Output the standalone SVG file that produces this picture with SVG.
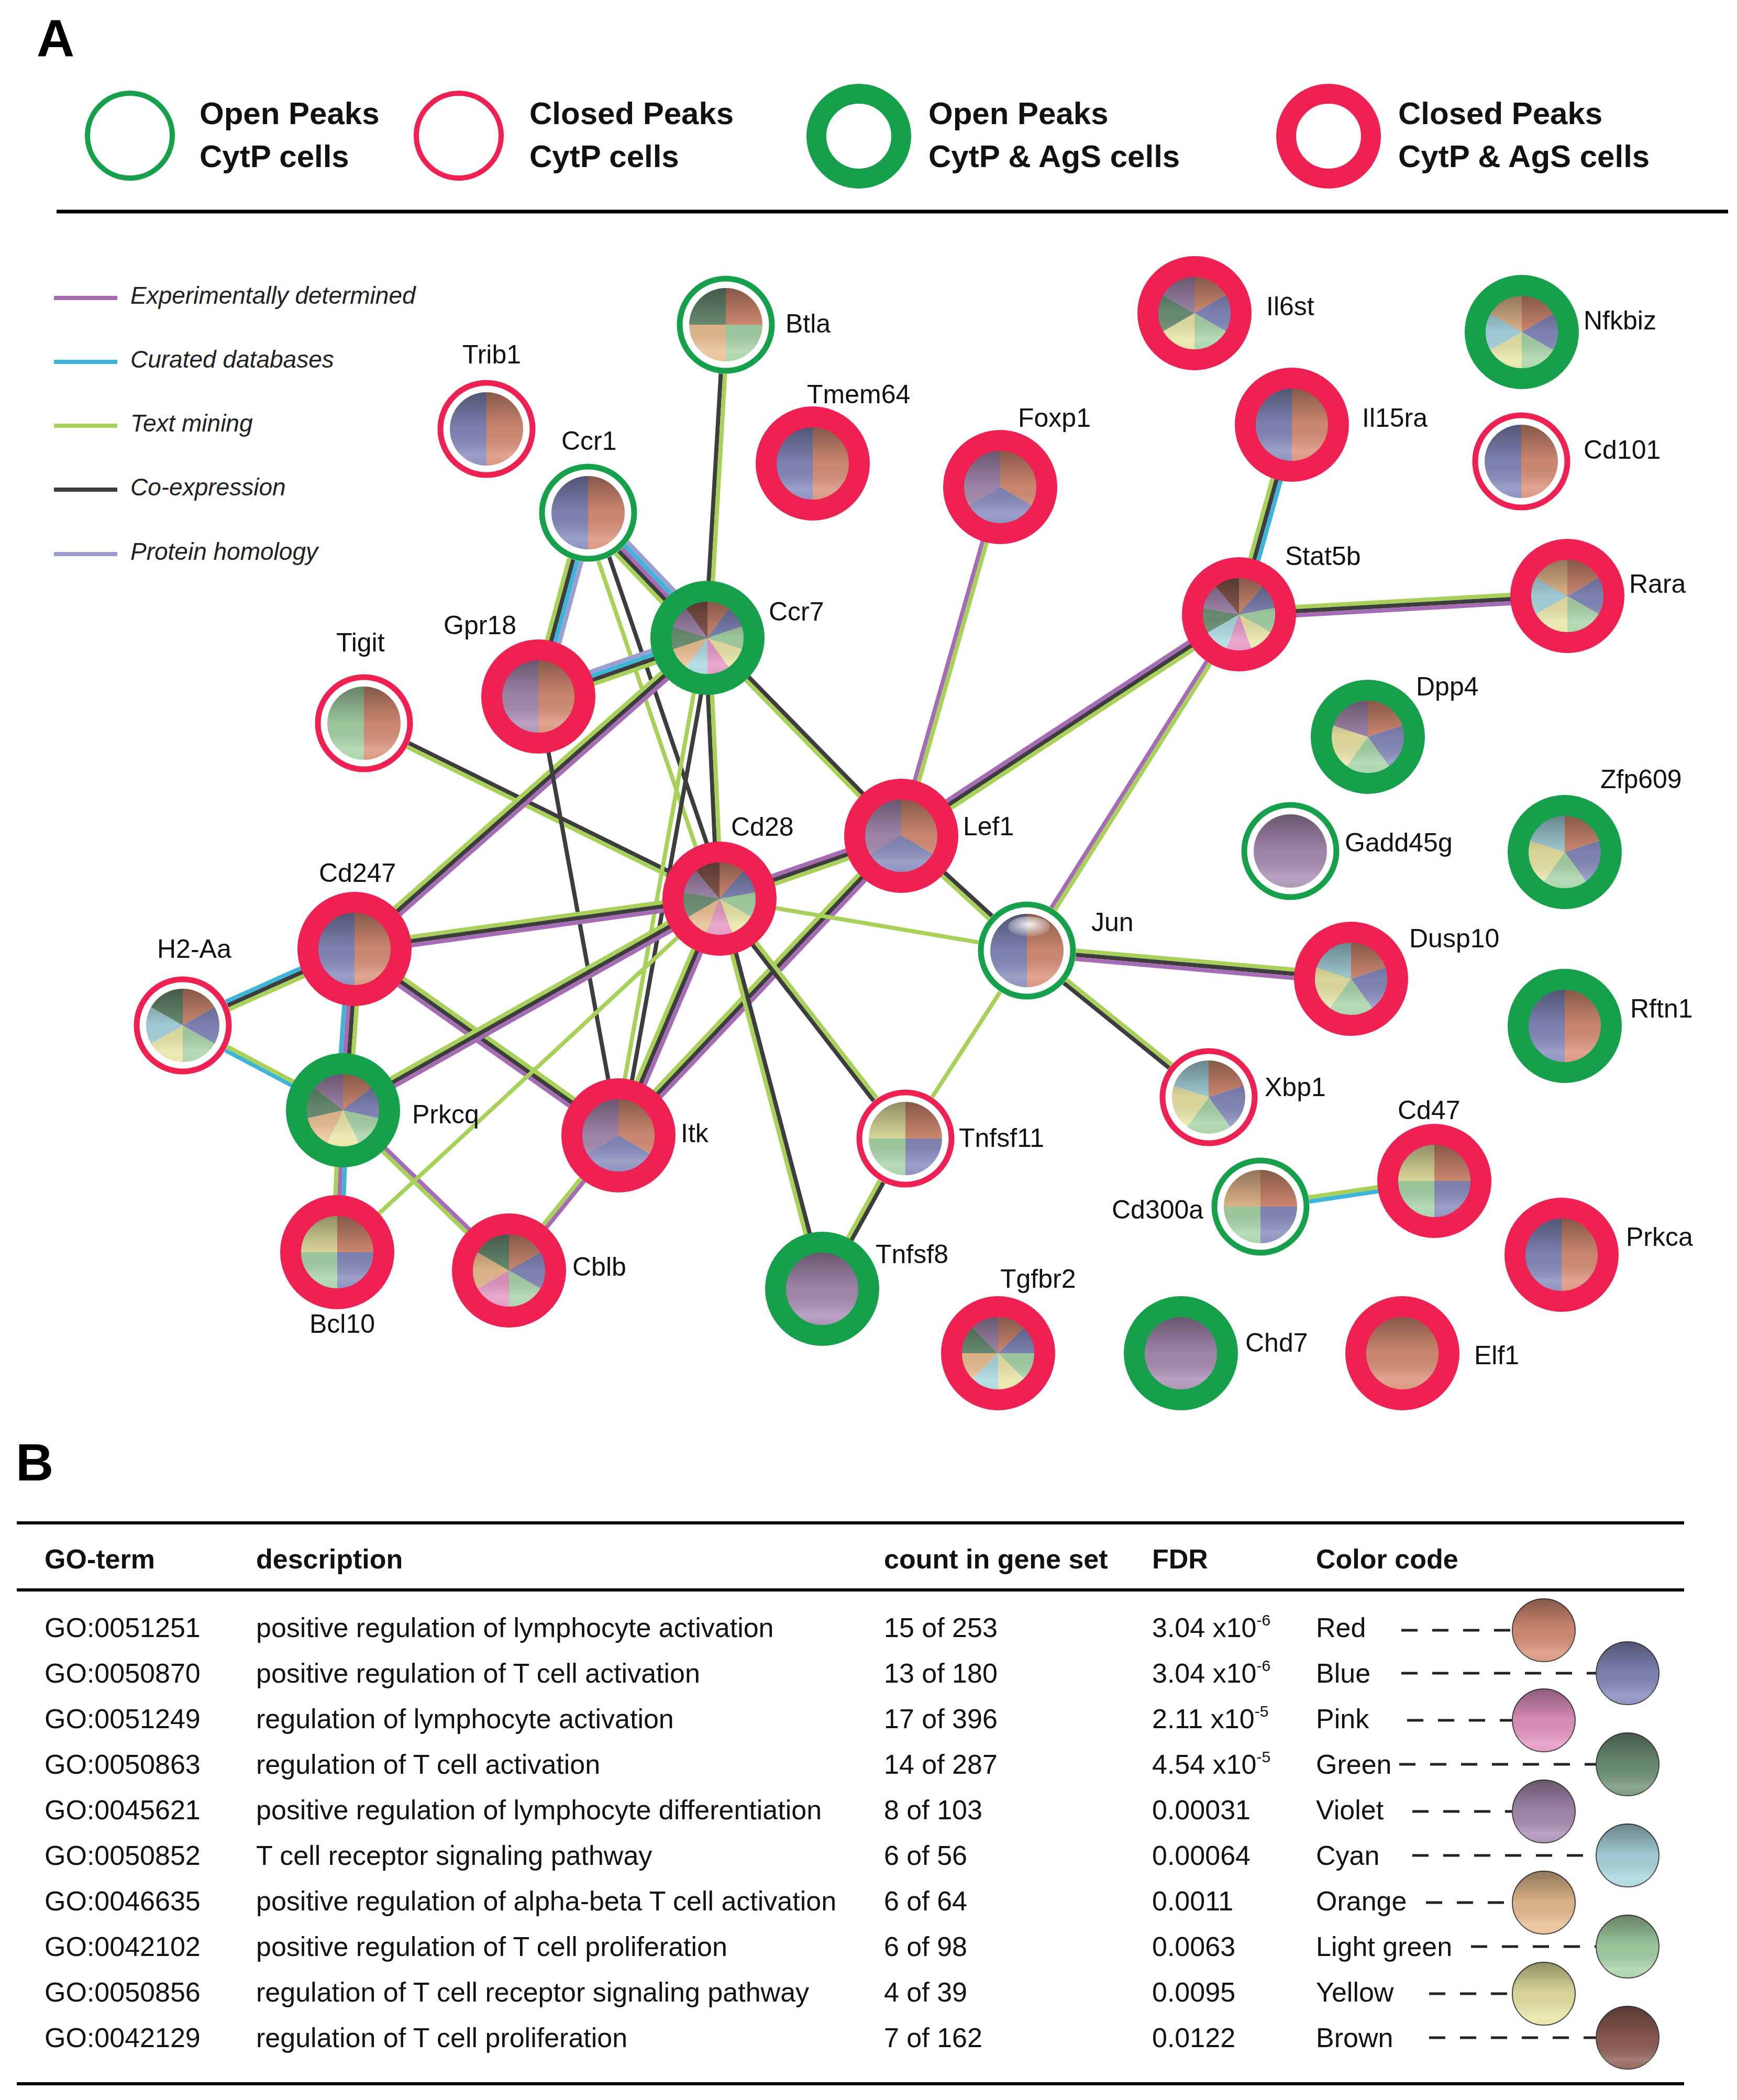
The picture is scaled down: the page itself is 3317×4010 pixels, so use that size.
<svg xmlns="http://www.w3.org/2000/svg" xmlns:xlink="http://www.w3.org/1999/xlink" width="3317" height="4010" viewBox="0 0 3317 4010">
<style>
.lbl{font-family:"Liberation Sans",Arial,sans-serif;font-size:50px;fill:#111}
.leg{font-family:"Liberation Sans",Arial,sans-serif;font-size:60px;font-weight:bold;fill:#111}
.legi{font-family:"Liberation Sans",Arial,sans-serif;font-size:46px;font-style:italic;fill:#222}
.big{font-family:"Liberation Sans",Arial,sans-serif;font-size:100px;font-weight:bold;fill:#000}
.tb{font-family:"Liberation Sans",Arial,sans-serif;font-size:52px;fill:#111}
.th{font-weight:bold}
.sup{font-size:30px}
.ex{stroke:#a66bb5}.cd{stroke:#3db5d9}.tm{stroke:#a8d15a}.co{stroke:#3d3d3d}.ph{stroke:#9a9fd2}
#edges path,.legline{stroke-width:8;fill:none}
.tg{fill:none;stroke:#17a04c;stroke-width:11}
.tr{fill:none;stroke:#ee2152;stroke-width:11}
.TG{fill:none;stroke:#17a04c;stroke-width:40}
.TR{fill:none;stroke:#ee2152;stroke-width:40}
.bg{fill:#fff}
.sh{fill:url(#shade)}
.R{fill:#d88f76}.B{fill:#8489bb}.P{fill:#e494c2}.G{fill:#6e9276}.V{fill:#a88cb2}.C{fill:#a9d6e0}.O{fill:#e9bd90}.L{fill:#a5d2a5}.Y{fill:#e8e4a4}.N{fill:#8e5c52}
.rule{stroke:#000;stroke-width:6}
.dash{stroke:#222;stroke-width:5;stroke-dasharray:31 28}
.ball{stroke:#444;stroke-width:2}
</style>
<defs>
<linearGradient id="shade" x1="0" y1="0" x2="0" y2="1">
<stop offset="0" stop-color="#000" stop-opacity="0.38"/>
<stop offset="0.5" stop-color="#000" stop-opacity="0.06"/>
<stop offset="0.85" stop-color="#fff" stop-opacity="0.2"/>
<stop offset="1" stop-color="#fff" stop-opacity="0.08"/>
</linearGradient>
<radialGradient id="gloss" cx="0.5" cy="0.4" r="0.6">
<stop offset="0" stop-color="#fff" stop-opacity="0.9"/>
<stop offset="1" stop-color="#fff" stop-opacity="0.1"/>
</radialGradient>
<g id="pRB"><path class="R" d="M0 0V-70A70 70 0 0 1 0 70Z"/><path class="B" d="M0 0V70A70 70 0 0 1 0 -70Z"/><circle class="sh" r="70"/></g>
<g id="pRV"><path class="R" d="M0 0V-70A70 70 0 0 1 0 70Z"/><path class="V" d="M0 0V70A70 70 0 0 1 0 -70Z"/><circle class="sh" r="70"/></g>
<g id="pRG"><path class="R" d="M0 0V-70A70 70 0 0 1 0 70Z"/><path class="L" d="M0 0V70A70 70 0 0 1 0 -70Z"/><circle class="sh" r="70"/></g>
<g id="p3"><path class="R" d="M0 0L0 -70A70 70 0 0 1 60.62 35Z"/><path class="B" d="M0 0L60.62 35A70 70 0 0 1 -60.62 35Z"/><path class="V" d="M0 0L-60.62 35A70 70 0 0 1 0 -70Z"/><circle class="sh" r="70"/></g>
<g id="p4btla"><path class="R" d="M0 0L0 -70A70 70 0 0 1 70 0Z"/><path class="L" d="M0 0L70 0A70 70 0 0 1 0 70Z"/><path class="O" d="M0 0L0 70A70 70 0 0 1 -70 0Z"/><path class="G" d="M0 0L-70 0A70 70 0 0 1 0 -70Z"/><circle class="sh" r="70"/></g>
<g id="p4y"><path class="R" d="M0 0L0 -70A70 70 0 0 1 70 0Z"/><path class="B" d="M0 0L70 0A70 70 0 0 1 0 70Z"/><path class="L" d="M0 0L0 70A70 70 0 0 1 -70 0Z"/><path class="Y" d="M0 0L-70 0A70 70 0 0 1 0 -70Z"/><circle class="sh" r="70"/></g>
<g id="p4o"><path class="R" d="M0 0L0 -70A70 70 0 0 1 70 0Z"/><path class="B" d="M0 0L70 0A70 70 0 0 1 0 70Z"/><path class="L" d="M0 0L0 70A70 70 0 0 1 -70 0Z"/><path class="O" d="M0 0L-70 0A70 70 0 0 1 0 -70Z"/><circle class="sh" r="70"/></g>
<g id="p5v"><path class="R" d="M0 0L0 -70A70 70 0 0 1 66.57 -21.63Z"/><path class="B" d="M0 0L66.57 -21.63A70 70 0 0 1 41.15 56.63Z"/><path class="L" d="M0 0L41.15 56.63A70 70 0 0 1 -41.15 56.63Z"/><path class="Y" d="M0 0L-41.15 56.63A70 70 0 0 1 -66.57 -21.63Z"/><path class="V" d="M0 0L-66.57 -21.63A70 70 0 0 1 0 -70Z"/><circle class="sh" r="70"/></g>
<g id="p5c"><path class="R" d="M0 0L0 -70A70 70 0 0 1 66.57 -21.63Z"/><path class="B" d="M0 0L66.57 -21.63A70 70 0 0 1 41.15 56.63Z"/><path class="L" d="M0 0L41.15 56.63A70 70 0 0 1 -41.15 56.63Z"/><path class="Y" d="M0 0L-41.15 56.63A70 70 0 0 1 -66.57 -21.63Z"/><path class="C" d="M0 0L-66.57 -21.63A70 70 0 0 1 0 -70Z"/><circle class="sh" r="70"/></g>
<g id="p6a"><path class="R" d="M0 0L0 -70A70 70 0 0 1 60.62 -35Z"/><path class="B" d="M0 0L60.62 -35A70 70 0 0 1 60.62 35Z"/><path class="L" d="M0 0L60.62 35A70 70 0 0 1 0 70Z"/><path class="Y" d="M0 0L0 70A70 70 0 0 1 -60.62 35Z"/><path class="G" d="M0 0L-60.62 35A70 70 0 0 1 -60.62 -35Z"/><path class="V" d="M0 0L-60.62 -35A70 70 0 0 1 0 -70Z"/><circle class="sh" r="70"/></g>
<g id="p6b"><path class="R" d="M0 0L0 -70A70 70 0 0 1 60.62 -35Z"/><path class="B" d="M0 0L60.62 -35A70 70 0 0 1 60.62 35Z"/><path class="L" d="M0 0L60.62 35A70 70 0 0 1 0 70Z"/><path class="Y" d="M0 0L0 70A70 70 0 0 1 -60.62 35Z"/><path class="C" d="M0 0L-60.62 35A70 70 0 0 1 -60.62 -35Z"/><path class="O" d="M0 0L-60.62 -35A70 70 0 0 1 0 -70Z"/><circle class="sh" r="70"/></g>
<g id="p6c"><path class="R" d="M0 0L0 -70A70 70 0 0 1 60.62 -35Z"/><path class="B" d="M0 0L60.62 -35A70 70 0 0 1 60.62 35Z"/><path class="L" d="M0 0L60.62 35A70 70 0 0 1 0 70Z"/><path class="Y" d="M0 0L0 70A70 70 0 0 1 -60.62 35Z"/><path class="C" d="M0 0L-60.62 35A70 70 0 0 1 -60.62 -35Z"/><path class="G" d="M0 0L-60.62 -35A70 70 0 0 1 0 -70Z"/><circle class="sh" r="70"/></g>
<g id="p6d"><path class="R" d="M0 0L0 -70A70 70 0 0 1 60.62 -35Z"/><path class="B" d="M0 0L60.62 -35A70 70 0 0 1 60.62 35Z"/><path class="L" d="M0 0L60.62 35A70 70 0 0 1 0 70Z"/><path class="P" d="M0 0L0 70A70 70 0 0 1 -60.62 35Z"/><path class="O" d="M0 0L-60.62 35A70 70 0 0 1 -60.62 -35Z"/><path class="G" d="M0 0L-60.62 -35A70 70 0 0 1 0 -70Z"/><circle class="sh" r="70"/></g>
<g id="p7"><path class="R" d="M0 0L0 -70A70 70 0 0 1 54.73 -43.65Z"/><path class="B" d="M0 0L54.73 -43.65A70 70 0 0 1 68.24 15.58Z"/><path class="L" d="M0 0L68.24 15.58A70 70 0 0 1 30.37 63.07Z"/><path class="Y" d="M0 0L30.37 63.07A70 70 0 0 1 -30.37 63.07Z"/><path class="O" d="M0 0L-30.37 63.07A70 70 0 0 1 -68.24 15.58Z"/><path class="G" d="M0 0L-68.24 15.58A70 70 0 0 1 -54.73 -43.65Z"/><path class="V" d="M0 0L-54.73 -43.65A70 70 0 0 1 0 -70Z"/><circle class="sh" r="70"/></g>
<g id="p8"><path class="R" d="M0 0L0 -70A70 70 0 0 1 49.5 -49.5Z"/><path class="B" d="M0 0L49.5 -49.5A70 70 0 0 1 70 0Z"/><path class="L" d="M0 0L70 0A70 70 0 0 1 49.5 49.5Z"/><path class="Y" d="M0 0L49.5 49.5A70 70 0 0 1 0 70Z"/><path class="C" d="M0 0L0 70A70 70 0 0 1 -49.5 49.5Z"/><path class="O" d="M0 0L-49.5 49.5A70 70 0 0 1 -70 0Z"/><path class="G" d="M0 0L-70 0A70 70 0 0 1 -49.5 -49.5Z"/><path class="V" d="M0 0L-49.5 -49.5A70 70 0 0 1 0 -70Z"/><circle class="sh" r="70"/></g>
<g id="p9a"><path class="R" d="M0 0L0 -70A70 70 0 0 1 45 -53.62Z"/><path class="B" d="M0 0L45 -53.62A70 70 0 0 1 68.94 -12.16Z"/><path class="L" d="M0 0L68.94 -12.16A70 70 0 0 1 60.62 35Z"/><path class="Y" d="M0 0L60.62 35A70 70 0 0 1 23.94 65.78Z"/><path class="P" d="M0 0L23.94 65.78A70 70 0 0 1 -23.94 65.78Z"/><path class="C" d="M0 0L-23.94 65.78A70 70 0 0 1 -60.62 35Z"/><path class="G" d="M0 0L-60.62 35A70 70 0 0 1 -68.94 -12.16Z"/><path class="V" d="M0 0L-68.94 -12.16A70 70 0 0 1 -45 -53.62Z"/><path class="N" d="M0 0L-45 -53.62A70 70 0 0 1 0 -70Z"/><circle class="sh" r="70"/></g>
<g id="p9b"><path class="R" d="M0 0L0 -70A70 70 0 0 1 45 -53.62Z"/><path class="B" d="M0 0L45 -53.62A70 70 0 0 1 68.94 -12.16Z"/><path class="L" d="M0 0L68.94 -12.16A70 70 0 0 1 60.62 35Z"/><path class="Y" d="M0 0L60.62 35A70 70 0 0 1 23.94 65.78Z"/><path class="P" d="M0 0L23.94 65.78A70 70 0 0 1 -23.94 65.78Z"/><path class="O" d="M0 0L-23.94 65.78A70 70 0 0 1 -60.62 35Z"/><path class="G" d="M0 0L-60.62 35A70 70 0 0 1 -68.94 -12.16Z"/><path class="V" d="M0 0L-68.94 -12.16A70 70 0 0 1 -45 -53.62Z"/><path class="N" d="M0 0L-45 -53.62A70 70 0 0 1 0 -70Z"/><circle class="sh" r="70"/></g>
<g id="p10"><path class="R" d="M0 0L0 -70A70 70 0 0 1 41.15 -56.63Z"/><path class="B" d="M0 0L41.15 -56.63A70 70 0 0 1 66.57 -21.63Z"/><path class="L" d="M0 0L66.57 -21.63A70 70 0 0 1 66.57 21.63Z"/><path class="Y" d="M0 0L66.57 21.63A70 70 0 0 1 41.15 56.63Z"/><path class="P" d="M0 0L41.15 56.63A70 70 0 0 1 0 70Z"/><path class="C" d="M0 0L0 70A70 70 0 0 1 -41.15 56.63Z"/><path class="O" d="M0 0L-41.15 56.63A70 70 0 0 1 -66.57 21.63Z"/><path class="G" d="M0 0L-66.57 21.63A70 70 0 0 1 -66.57 -21.63Z"/><path class="V" d="M0 0L-66.57 -21.63A70 70 0 0 1 -41.15 -56.63Z"/><path class="N" d="M0 0L-41.15 -56.63A70 70 0 0 1 0 -70Z"/><circle class="sh" r="70"/></g>
<g id="pV"><circle class="V" r="70"/><circle class="sh" r="70"/></g>
<g id="pR"><circle class="R" r="70"/><circle class="sh" r="70"/></g>
</defs>
<rect width="3317" height="4010" fill="#fff"/>

<!-- Panel A header legend -->
<text class="big" x="70" y="108">A</text>
<g id="legend-peaks">
<circle cx="248" cy="259" r="81" fill="none" stroke="#17a04c" stroke-width="10"/>
<text class="leg" x="381" y="237">Open Peaks</text><text class="leg" x="381" y="319">CytP cells</text>
<circle cx="876" cy="259" r="81" fill="none" stroke="#ee2152" stroke-width="10"/>
<text class="leg" x="1011" y="237">Closed Peaks</text><text class="leg" x="1011" y="319">CytP cells</text>
<circle cx="1640" cy="260" r="81" fill="none" stroke="#17a04c" stroke-width="38"/>
<text class="leg" x="1773" y="237">Open Peaks</text><text class="leg" x="1773" y="319">CytP &amp; AgS cells</text>
<circle cx="2537" cy="260" r="81" fill="none" stroke="#ee2152" stroke-width="38"/>
<text class="leg" x="2670" y="237">Closed Peaks</text><text class="leg" x="2670" y="319">CytP &amp; AgS cells</text>
</g>
<line x1="108" y1="404" x2="3300" y2="404" stroke="#000" stroke-width="7"/>

<g id="legend-edges">
<line class="legline ex" x1="103" y1="569" x2="224" y2="569"/><text class="legi" x="249" y="580">Experimentally determined</text>
<line class="legline cd" x1="103" y1="691" x2="224" y2="691"/><text class="legi" x="249" y="702">Curated databases</text>
<line class="legline tm" x1="103" y1="813" x2="224" y2="813"/><text class="legi" x="249" y="824">Text mining</text>
<line class="legline co" x1="103" y1="935" x2="224" y2="935"/><text class="legi" x="249" y="946">Co-expression</text>
<line class="legline ph" x1="103" y1="1058" x2="224" y2="1058"/><text class="legi" x="249" y="1069">Protein homology</text>
</g>

<g id="edges">
<g transform="translate(1386 620) rotate(93.35)"><path class="co" d="M0 4H599"/><path class="tm" d="M0 -4H599"/></g>
<g transform="translate(1123 979) rotate(46.35)"><path class="tm" d="M0 16H330"/><path class="co" d="M0 8H330"/><path class="ex" d="M0 0H330"/><path class="cd" d="M0 -8H330"/><path class="ph" d="M0 -16H330"/></g>
<g transform="translate(1123 979) rotate(105.14)"><path class="tm" d="M0 12H364"/><path class="co" d="M0 4H364"/><path class="cd" d="M0 -4H364"/><path class="ph" d="M0 -12H364"/></g>
<g transform="translate(1123 979) rotate(71.19)"><path class="tm" d="M0 11H779"/><path class="co" d="M0 -11H779"/></g>
<g transform="translate(1028 1330) rotate(-19.12)"><path class="tm" d="M0 12H342"/><path class="co" d="M0 4H342"/><path class="cd" d="M0 -4H342"/><path class="ph" d="M0 -12H342"/></g>
<g transform="translate(695 1381) rotate(26.26)"><path class="co" d="M0 -4H757"/><path class="tm" d="M0 4H757"/></g>
<g transform="translate(1351 1218) rotate(138.61)"><path class="tm" d="M0 8H898"/><path class="co" d="M0 0H898"/><path class="ex" d="M0 -8H898"/></g>
<g transform="translate(1351 1218) rotate(87.36)"><path class="co" d="M0 4H499"/><path class="tm" d="M0 -4H499"/></g>
<g transform="translate(1351 1218) rotate(100.15)"><path class="tm" d="M0 7H965"/><path class="co" d="M0 -7H965"/></g>
<g transform="translate(1351 1218) rotate(45.61)"><path class="tm" d="M0 4H529"/><path class="co" d="M0 -4H529"/></g>
<g transform="translate(1028 1330) rotate(79.65)"><path class="co" d="M0 0H852"/></g>
<g transform="translate(677 1812) rotate(-7.84)"><path class="tm" d="M0 -8H704"/><path class="co" d="M0 0H704"/><path class="ex" d="M0 8H704"/></g>
<g transform="translate(677 1812) rotate(156)"><path class="cd" d="M0 8H359"/><path class="co" d="M0 0H359"/><path class="tm" d="M0 -8H359"/></g>
<g transform="translate(677 1812) rotate(94.09)"><path class="cd" d="M0 12H309"/><path class="ex" d="M0 4H309"/><path class="co" d="M0 -4H309"/><path class="tm" d="M0 -12H309"/></g>
<g transform="translate(677 1812) rotate(35.24)"><path class="ex" d="M0 8H617"/><path class="co" d="M0 0H617"/><path class="tm" d="M0 -8H617"/></g>
<g transform="translate(349 1958) rotate(27.9)"><path class="cd" d="M0 4H346"/><path class="tm" d="M0 -4H346"/></g>
<g transform="translate(655 2120) rotate(-29.33)"><path class="tm" d="M0 -8H825"/><path class="co" d="M0 0H825"/><path class="ex" d="M0 8H825"/></g>
<g transform="translate(655 2120) rotate(92.32)"><path class="tm" d="M0 8H271"/><path class="ex" d="M0 0H271"/><path class="cd" d="M0 -8H271"/></g>
<g transform="translate(655 2120) rotate(43.99)"><path class="tm" d="M0 4H441"/><path class="ex" d="M0 -4H441"/></g>
<g transform="translate(644 2391) rotate(-42.76)"><path class="tm" d="M0 0H994"/></g>
<g transform="translate(1181 2168) rotate(-66.88)"><path class="tm" d="M0 -8H492"/><path class="co" d="M0 0H492"/><path class="ex" d="M0 8H492"/></g>
<g transform="translate(1181 2168) rotate(-46.65)"><path class="tm" d="M0 -8H787"/><path class="co" d="M0 0H787"/><path class="ex" d="M0 8H787"/></g>
<g transform="translate(1181 2168) rotate(129)"><path class="tm" d="M0 4H332"/><path class="ex" d="M0 -4H332"/></g>
<g transform="translate(1374 1716) rotate(-19.08)"><path class="ex" d="M0 -8H367"/><path class="co" d="M0 0H367"/><path class="tm" d="M0 8H367"/></g>
<g transform="translate(1374 1716) rotate(9.57)"><path class="tm" d="M0 0H595"/></g>
<g transform="translate(1374 1716) rotate(52.22)"><path class="co" d="M0 4H580"/><path class="tm" d="M0 -4H580"/></g>
<g transform="translate(1374 1716) rotate(75.26)"><path class="tm" d="M0 4H770"/><path class="co" d="M0 -4H770"/></g>
<g transform="translate(1721 1596) rotate(42.38)"><path class="tm" d="M0 4H325"/><path class="co" d="M0 -4H325"/></g>
<g transform="translate(1721 1596) rotate(-33.26)"><path class="ex" d="M0 -8H771"/><path class="co" d="M0 0H771"/><path class="tm" d="M0 8H771"/></g>
<g transform="translate(1721 1596) rotate(-74.16)"><path class="ex" d="M0 -4H692"/><path class="tm" d="M0 4H692"/></g>
<g transform="translate(1961 1815) rotate(-57.76)"><path class="ex" d="M0 -4H759"/><path class="tm" d="M0 4H759"/></g>
<g transform="translate(1961 1815) rotate(4.99)"><path class="tm" d="M0 -8H621"/><path class="co" d="M0 0H621"/><path class="ex" d="M0 8H621"/></g>
<g transform="translate(1961 1815) rotate(38.9)"><path class="co" d="M0 4H446"/><path class="tm" d="M0 -4H446"/></g>
<g transform="translate(1961 1815) rotate(122.87)"><path class="tm" d="M0 0H427"/></g>
<g transform="translate(1729 2174) rotate(118.99)"><path class="tm" d="M0 4H328"/><path class="co" d="M0 -4H328"/></g>
<g transform="translate(2366 1173) rotate(-74.41)"><path class="tm" d="M0 -8H376"/><path class="co" d="M0 0H376"/><path class="cd" d="M0 8H376"/></g>
<g transform="translate(2366 1173) rotate(-3.2)"><path class="tm" d="M0 -8H628"/><path class="co" d="M0 0H628"/><path class="ex" d="M0 8H628"/></g>
<g transform="translate(2407 2304) rotate(-8.4)"><path class="tm" d="M0 -4H336"/><path class="cd" d="M0 4H336"/></g>
</g>

<g id="nodes">
<g id="n-Btla"><g transform="translate(1386 620)"><circle class="bg" r="94"/><use href="#p4btla"/><circle class="tg" r="88"/></g><text class="lbl" x="1500" y="635">Btla</text></g>
<g id="n-Trib1"><g transform="translate(929 819)"><circle class="bg" r="94"/><use href="#pRB"/><circle class="tr" r="88"/></g><text class="lbl" x="883" y="694">Trib1</text></g>
<g id="n-Tmem64"><g transform="translate(1552 885)"><use href="#pRB"/><circle class="TR" r="89"/></g><text class="lbl" x="1541" y="770">Tmem64</text></g>
<g id="n-Foxp1"><g transform="translate(1910 930)"><use href="#p3"/><circle class="TR" r="89"/></g><text class="lbl" x="1944" y="815">Foxp1</text></g>
<g id="n-Il6st"><g transform="translate(2281 598)"><use href="#p6a"/><circle class="TR" r="89"/></g><text class="lbl" x="2418" y="602">Il6st</text></g>
<g id="n-Il15ra"><g transform="translate(2467 811)"><use href="#pRB"/><circle class="TR" r="89"/></g><text class="lbl" x="2601" y="815">Il15ra</text></g>
<g id="n-Nfkbiz"><g transform="translate(2906 634)"><use href="#p6b"/><circle class="TG" r="89"/></g><text class="lbl" x="3024" y="629">Nfkbiz</text></g>
<g id="n-Cd101"><g transform="translate(2905 881)"><circle class="bg" r="94"/><use href="#pRB"/><circle class="tr" r="88"/></g><text class="lbl" x="3024" y="876">Cd101</text></g>
<g id="n-Ccr1"><g transform="translate(1123 979)"><circle class="bg" r="94"/><use href="#pRB"/><circle class="tg" r="88"/></g><text class="lbl" x="1072" y="859">Ccr1</text></g>
<g id="n-Ccr7"><g transform="translate(1351 1218)"><use href="#p10"/><circle class="TG" r="89"/></g><text class="lbl" x="1468" y="1185">Ccr7</text></g>
<g id="n-Gpr18"><g transform="translate(1028 1330)"><use href="#pRV"/><circle class="TR" r="89"/></g><text class="lbl" x="847" y="1211">Gpr18</text></g>
<g id="n-Tigit"><g transform="translate(695 1381)"><circle class="bg" r="94"/><use href="#pRG"/><circle class="tr" r="88"/></g><text class="lbl" x="642" y="1244">Tigit</text></g>
<g id="n-Stat5b"><g transform="translate(2366 1173)"><use href="#p9a"/><circle class="TR" r="89"/></g><text class="lbl" x="2454" y="1079">Stat5b</text></g>
<g id="n-Rara"><g transform="translate(2993 1138)"><use href="#p6b"/><circle class="TR" r="89"/></g><text class="lbl" x="3111" y="1132">Rara</text></g>
<g id="n-Dpp4"><g transform="translate(2612 1407)"><use href="#p5v"/><circle class="TG" r="89"/></g><text class="lbl" x="2704" y="1328">Dpp4</text></g>
<g id="n-Zfp609"><g transform="translate(2988 1627)"><use href="#p5c"/><circle class="TG" r="89"/></g><text class="lbl" x="3056" y="1505">Zfp609</text></g>
<g id="n-Gadd45g"><g transform="translate(2464 1625)"><circle class="bg" r="94"/><use href="#pV"/><circle class="tg" r="88"/></g><text class="lbl" x="2568" y="1626">Gadd45g</text></g>
<g id="n-Lef1"><g transform="translate(1721 1596)"><use href="#p3"/><circle class="TR" r="89"/></g><text class="lbl" x="1839" y="1595">Lef1</text></g>
<g id="n-Cd28"><g transform="translate(1374 1716)"><use href="#p9b"/><circle class="TR" r="89"/></g><text class="lbl" x="1396" y="1596">Cd28</text></g>
<g id="n-Cd247"><g transform="translate(677 1812)"><use href="#pRB"/><circle class="TR" r="89"/></g><text class="lbl" x="609" y="1684">Cd247</text></g>
<g id="n-H2-Aa"><g transform="translate(349 1958)"><circle class="bg" r="94"/><use href="#p6c"/><circle class="tr" r="88"/></g><text class="lbl" x="300" y="1829">H2-Aa</text></g>
<g id="n-Jun"><g transform="translate(1961 1815)"><circle class="bg" r="94"/><use href="#pRB"/><ellipse cx="4" cy="-46" rx="40" ry="19" fill="url(#gloss)"/><circle class="tg" r="88"/></g><text class="lbl" x="2084" y="1778">Jun</text></g>
<g id="n-Dusp10"><g transform="translate(2580 1869)"><use href="#p5c"/><circle class="TR" r="89"/></g><text class="lbl" x="2691" y="1809">Dusp10</text></g>
<g id="n-Rftn1"><g transform="translate(2988 1959)"><use href="#pRB"/><circle class="TG" r="89"/></g><text class="lbl" x="3113" y="1943">Rftn1</text></g>
<g id="n-Xbp1"><g transform="translate(2308 2095)"><circle class="bg" r="94"/><use href="#p5c"/><circle class="tr" r="88"/></g><text class="lbl" x="2415" y="2093">Xbp1</text></g>
<g id="n-Prkcq"><g transform="translate(655 2120)"><use href="#p7"/><circle class="TG" r="89"/></g><text class="lbl" x="787" y="2145">Prkcq</text></g>
<g id="n-Itk"><g transform="translate(1181 2168)"><use href="#p3"/><circle class="TR" r="89"/></g><text class="lbl" x="1300" y="2181">Itk</text></g>
<g id="n-Tnfsf11"><g transform="translate(1729 2174)"><circle class="bg" r="94"/><use href="#p4y"/><circle class="tr" r="88"/></g><text class="lbl" x="1831" y="2190">Tnfsf11</text></g>
<g id="n-Cd47"><g transform="translate(2739 2255)"><use href="#p4y"/><circle class="TR" r="89"/></g><text class="lbl" x="2669" y="2137">Cd47</text></g>
<g id="n-Cd300a"><g transform="translate(2407 2304)"><circle class="bg" r="94"/><use href="#p4o"/><circle class="tg" r="88"/></g><text class="lbl" x="2123" y="2327">Cd300a</text></g>
<g id="n-Prkca"><g transform="translate(2982 2396)"><use href="#pRB"/><circle class="TR" r="89"/></g><text class="lbl" x="3105" y="2379">Prkca</text></g>
<g id="n-Bcl10"><g transform="translate(644 2391)"><use href="#p4y"/><circle class="TR" r="89"/></g><text class="lbl" x="591" y="2545">Bcl10</text></g>
<g id="n-Cblb"><g transform="translate(972 2426)"><use href="#p6d"/><circle class="TR" r="89"/></g><text class="lbl" x="1093" y="2436">Cblb</text></g>
<g id="n-Tnfsf8"><g transform="translate(1570 2461)"><use href="#pV"/><circle class="TG" r="89"/></g><text class="lbl" x="1672" y="2412">Tnfsf8</text></g>
<g id="n-Tgfbr2"><g transform="translate(1906 2584)"><use href="#p8"/><circle class="TR" r="89"/></g><text class="lbl" x="1910" y="2459">Tgfbr2</text></g>
<g id="n-Chd7"><g transform="translate(2255 2584)"><use href="#pV"/><circle class="TG" r="89"/></g><text class="lbl" x="2378" y="2581">Chd7</text></g>
<g id="n-Elf1"><g transform="translate(2678 2584)"><use href="#pR"/><circle class="TR" r="89"/></g><text class="lbl" x="2815" y="2605">Elf1</text></g>
</g>

<!-- Panel B table -->
<text class="big" x="30" y="2827">B</text>
<g id="table">
<line class="rule" x1="32" y1="2908" x2="3216" y2="2908"/>
<text class="tb th" x="85" y="2995">GO-term</text>
<text class="tb th" x="489" y="2995">description</text>
<text class="tb th" x="1688" y="2995">count in gene set</text>
<text class="tb th" x="2200" y="2995">FDR</text>
<text class="tb th" x="2513" y="2995">Color code</text>
<line class="rule" x1="32" y1="3036" x2="3216" y2="3036"/>

<text class="tb" x="85" y="3126">GO:0051251</text><text class="tb" x="489" y="3126">positive regulation of lymphocyte activation</text><text class="tb" x="1688" y="3126">15 of 253</text><text class="tb" x="2200" y="3126">3.04 x10<tspan class="sup" dy="-22">-6</tspan></text><text class="tb" x="2513" y="3126">Red</text>
<text class="tb" x="85" y="3213">GO:0050870</text><text class="tb" x="489" y="3213">positive regulation of T cell activation</text><text class="tb" x="1688" y="3213">13 of 180</text><text class="tb" x="2200" y="3213">3.04 x10<tspan class="sup" dy="-22">-6</tspan></text><text class="tb" x="2513" y="3213">Blue</text>
<text class="tb" x="85" y="3300">GO:0051249</text><text class="tb" x="489" y="3300">regulation of lymphocyte activation</text><text class="tb" x="1688" y="3300">17 of 396</text><text class="tb" x="2200" y="3300">2.11 x10<tspan class="sup" dy="-22">-5</tspan></text><text class="tb" x="2513" y="3300">Pink</text>
<text class="tb" x="85" y="3387">GO:0050863</text><text class="tb" x="489" y="3387">regulation of T cell activation</text><text class="tb" x="1688" y="3387">14 of 287</text><text class="tb" x="2200" y="3387">4.54 x10<tspan class="sup" dy="-22">-5</tspan></text><text class="tb" x="2513" y="3387">Green</text>
<text class="tb" x="85" y="3474">GO:0045621</text><text class="tb" x="489" y="3474">positive regulation of lymphocyte differentiation</text><text class="tb" x="1688" y="3474">8 of 103</text><text class="tb" x="2200" y="3474">0.00031</text><text class="tb" x="2513" y="3474">Violet</text>
<text class="tb" x="85" y="3561">GO:0050852</text><text class="tb" x="489" y="3561">T cell receptor signaling pathway</text><text class="tb" x="1688" y="3561">6 of 56</text><text class="tb" x="2200" y="3561">0.00064</text><text class="tb" x="2513" y="3561">Cyan</text>
<text class="tb" x="85" y="3648">GO:0046635</text><text class="tb" x="489" y="3648">positive regulation of alpha-beta T cell activation</text><text class="tb" x="1688" y="3648">6 of 64</text><text class="tb" x="2200" y="3648">0.0011</text><text class="tb" x="2513" y="3648">Orange</text>
<text class="tb" x="85" y="3735">GO:0042102</text><text class="tb" x="489" y="3735">positive regulation of T cell proliferation</text><text class="tb" x="1688" y="3735">6 of 98</text><text class="tb" x="2200" y="3735">0.0063</text><text class="tb" x="2513" y="3735">Light green</text>
<text class="tb" x="85" y="3822">GO:0050856</text><text class="tb" x="489" y="3822">regulation of T cell receptor signaling pathway</text><text class="tb" x="1688" y="3822">4 of 39</text><text class="tb" x="2200" y="3822">0.0095</text><text class="tb" x="2513" y="3822">Yellow</text>
<text class="tb" x="85" y="3909">GO:0042129</text><text class="tb" x="489" y="3909">regulation of T cell proliferation</text><text class="tb" x="1688" y="3909">7 of 162</text><text class="tb" x="2200" y="3909">0.0122</text><text class="tb" x="2513" y="3909">Brown</text>

<line class="dash" x1="2676" y1="3113" x2="2888" y2="3113"/>
<line class="dash" x1="2676" y1="3195" x2="3048" y2="3195"/>
<line class="dash" x1="2687" y1="3285" x2="2888" y2="3285"/>
<line class="dash" x1="2672" y1="3369" x2="3048" y2="3369"/>
<line class="dash" x1="2697" y1="3459" x2="2888" y2="3459"/>
<line class="dash" x1="2697" y1="3543" x2="3048" y2="3543"/>
<line class="dash" x1="2723" y1="3633" x2="2888" y2="3633"/>
<line class="dash" x1="2809" y1="3717" x2="3048" y2="3717"/>
<line class="dash" x1="2729" y1="3807" x2="2888" y2="3807"/>
<line class="dash" x1="2729" y1="3891" x2="3048" y2="3891"/>

<g transform="translate(2948 3113)"><circle class="R ball" r="60"/><circle class="sh" r="60"/></g>
<g transform="translate(3108 3195)"><circle class="B ball" r="60"/><circle class="sh" r="60"/></g>
<g transform="translate(2948 3285)"><circle class="P ball" r="60"/><circle class="sh" r="60"/></g>
<g transform="translate(3108 3369)"><circle class="G ball" r="60"/><circle class="sh" r="60"/></g>
<g transform="translate(2948 3459)"><circle class="V ball" r="60"/><circle class="sh" r="60"/></g>
<g transform="translate(3108 3543)"><circle class="C ball" r="60"/><circle class="sh" r="60"/></g>
<g transform="translate(2948 3633)"><circle class="O ball" r="60"/><circle class="sh" r="60"/></g>
<g transform="translate(3108 3717)"><circle class="L ball" r="60"/><circle class="sh" r="60"/></g>
<g transform="translate(2948 3807)"><circle class="Y ball" r="60"/><circle class="sh" r="60"/></g>
<g transform="translate(3108 3891)"><circle class="N ball" r="60"/><circle class="sh" r="60"/></g>

<line class="rule" x1="32" y1="3979" x2="3216" y2="3979"/>
</g>
</svg>
